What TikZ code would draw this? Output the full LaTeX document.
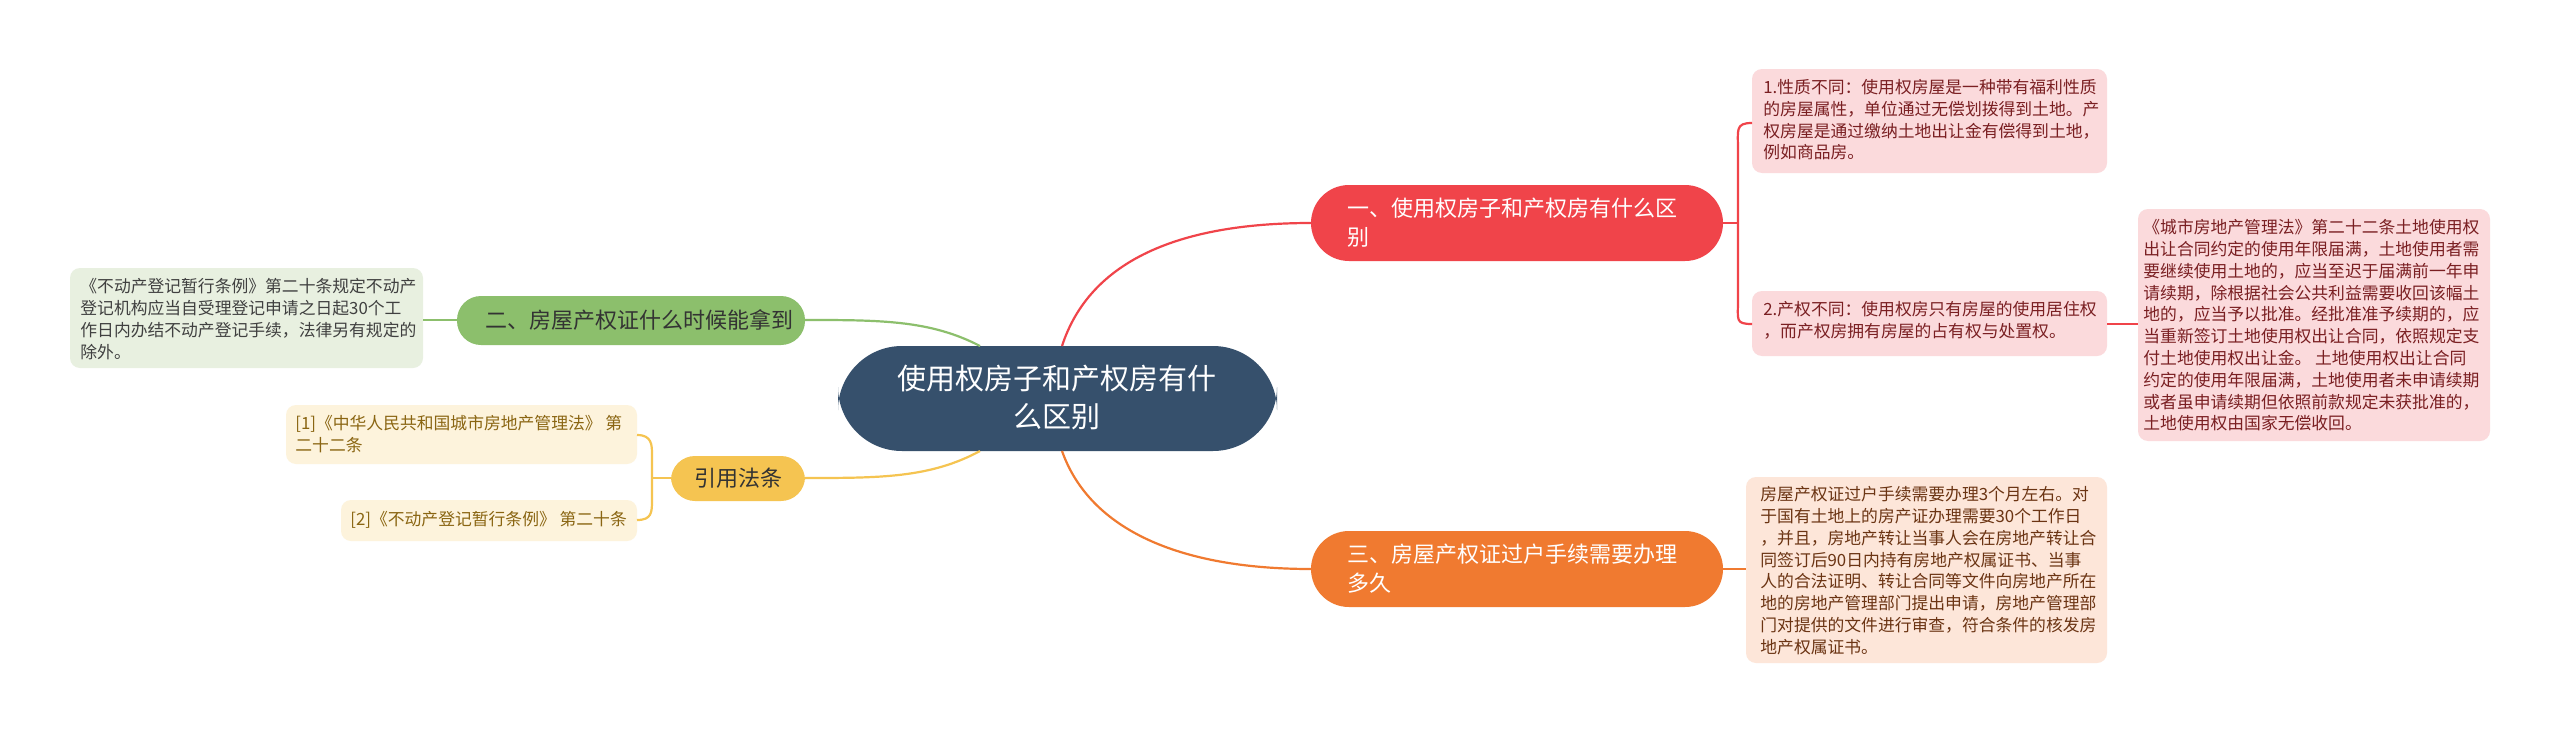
\documentclass[tikz,border=0pt]{standalone}
\usepackage{fontspec}
\setmainfont{Noto Sans CJK SC}
\begin{document}
\begin{tikzpicture}[x=0.5pt,y=-0.5pt,
 box/.style={rounded corners=5pt,inner sep=0pt},
 leaf/.style={font=\fontsize{8.4}{10.9}\selectfont,align=left,anchor=north west,inner sep=0pt},
 br/.style={font=\fontsize{11}{14.5}\selectfont,align=left,anchor=west,inner sep=0pt},
 con/.style={line width=1.1pt}]
\definecolor{cblue}{HTML}{36506C}
\definecolor{cred}{HTML}{F0444A}
\definecolor{cpink}{HTML}{FBDADC}
\definecolor{cdred}{HTML}{7A1F22}
\definecolor{corange}{HTML}{F07A30}
\definecolor{cpeach}{HTML}{FDE6D9}
\definecolor{cbrown}{HTML}{6B3413}
\definecolor{cgreen}{HTML}{8CBF6C}
\definecolor{clgreen}{HTML}{E8F0E0}
\definecolor{cyellow}{HTML}{F5C451}
\definecolor{clyellow}{HTML}{FDF3DC}
\definecolor{cdyellow}{HTML}{8A6512}
\useasboundingbox[fill=white] (0,0) rectangle (2560,739);
% boxes
\fill[cblue,rounded corners=32pt] (838,346) rectangle (1277,451);
\node[font=\fontsize{14.5}{19}\selectfont,text=white,align=center] (c) at (1057,398) {使用权房子和产权房有什\\么区别};
\fill[cred,rounded corners=19pt] (1311,185) rectangle (1723,261);
\node[br,text=white] (b1) at (1347,223) {一、使用权房子和产权房有什么区\\别};
\fill[corange,rounded corners=19pt] (1311,531) rectangle (1723,607);
\node[br,text=white] (b3) at (1347,569) {三、房屋产权证过户手续需要办理\\多久};
\fill[cgreen,rounded corners=12pt] (457,296) rectangle (805,345);
\node[br,text=black!80] (b2) at (485,320) {二、房屋产权证什么时候能拿到};
\fill[cyellow,rounded corners=12pt] (671,456) rectangle (805,501);
\node[br,text=black!80,anchor=center] (b4) at (738,478) {引用法条};
\fill[cpink,box] (1752,69) rectangle (2107,173);
\node[leaf,text=cdred] (l1) at (1763,79) {1.性质不同：使用权房屋是一种带有福利性质\\的房屋属性，单位通过无偿划拨得到土地。产\\权房屋是通过缴纳土地出让金有偿得到土地，\\例如商品房。};
\fill[cpink,box] (1752,291) rectangle (2107,356);
\node[leaf,text=cdred] (l2) at (1763,301) {2.产权不同：使用权房只有房屋的使用居住权\\，而产权房拥有房屋的占有权与处置权。};
\fill[cpink,box] (2138,209) rectangle (2490,441);
\node[leaf,text=cdred] (l3) at (2143,219) {《城市房地产管理法》第二十二条土地使用权\\出让合同约定的使用年限届满，土地使用者需\\要继续使用土地的，应当至迟于届满前一年申\\请续期，除根据社会公共利益需要收回该幅土\\地的，应当予以批准。经批准准予续期的，应\\当重新签订土地使用权出让合同，依照规定支\\付土地使用权出让金。 土地使用权出让合同\\约定的使用年限届满，土地使用者未申请续期\\或者虽申请续期但依照前款规定未获批准的，\\土地使用权由国家无偿收回。};
\fill[cpeach,box] (1746,477) rectangle (2107,663);
\node[leaf,text=cbrown] (l4) at (1760,486) {房屋产权证过户手续需要办理3个月左右。对\\于国有土地上的房产证办理需要30个工作日\\，并且，房地产转让当事人会在房地产转让合\\同签订后90日内持有房地产权属证书、当事\\人的合法证明、转让合同等文件向房地产所在\\地的房地产管理部门提出申请，房地产管理部\\门对提供的文件进行审查，符合条件的核发房\\地产权属证书。};
\fill[clgreen,box] (70,268) rectangle (423,368);
\node[leaf,text=black!75] (l5) at (80,278) {《不动产登记暂行条例》第二十条规定不动产\\登记机构应当自受理登记申请之日起30个工\\作日内办结不动产登记手续，法律另有规定的\\除外。};
\fill[clyellow,box] (286,405) rectangle (637,464);
\node[leaf,text=cdyellow] (r1) at (295,415) {[1]《中华人民共和国城市房地产管理法》 第\\二十二条};
\fill[clyellow,box] (341,500) rectangle (637,541);
\node[leaf,text=cdyellow] (r2) at (350,511) {[2]《不动产登记暂行条例》 第二十条};
% connectors
\coordinate (cT) at (1062,346); \coordinate (cB) at (1062,451);
\draw[con,cred] (cT) .. controls (1090,260) and (1180,223) .. (1311,223);
\draw[con,corange] (cB) .. controls (1090,530) and (1180,569) .. (1311,569);
\draw[con,cgreen] (980,346) .. controls (930,320) and (880,320) .. (805,320);
\draw[con,cyellow] (980,451) .. controls (930,478) and (880,478) .. (805,478);
\draw[con,cred] (1723,223) -- (1738,223);
\draw[con,cred] (1752,123) .. controls (1735,123) and (1738,130) .. (1738,150) -- (1738,300) .. controls (1738,320) and (1735,324) .. (1752,324);
\draw[con,cred] (2107,324) -- (2138,324);
\draw[con,corange] (1723,569) -- (1746,569);
\draw[con,cgreen] (457,320) -- (423,320);
\draw[con,cyellow] (671,478) -- (652,478);
\draw[con,cyellow] (637,435) .. controls (652,435) and (652,445) .. (652,455) -- (652,500) .. controls (652,512) and (652,520) .. (637,520);
\end{tikzpicture}
\end{document}
